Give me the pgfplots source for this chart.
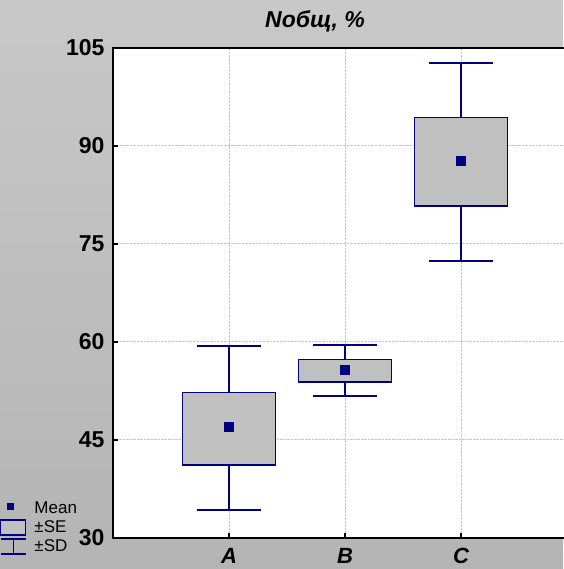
\documentclass[border=0pt]{standalone}
\usepackage{fontspec}
\setmainfont{Liberation Sans}
\usepackage{pgfplots}
\pgfplotsset{compat=1.18}
\usepgfplotslibrary{statistics}
\definecolor{navyb}{RGB}{0,0,128}
\definecolor{boxgray}{RGB}{192,192,192}
\definecolor{bgtop}{RGB}{200,200,200}
\definecolor{bgbot}{RGB}{180,180,180}
\begin{document}
\begin{tikzpicture}[x=1pt,y=1pt]
\useasboundingbox (0,0) rectangle (563,569);
\shade[top color=bgtop, bottom color=bgbot] (0,0) rectangle (563,569);
\begin{axis}[
  at={(113pt,31pt)}, anchor=south west, scale only axis,
  width=452.4pt, height=490pt,
  xmin=0, xmax=3.9, ymin=30, ymax=105,
  xtick={1,2,3}, xticklabels={A,B,C},
  ytick={30,45,60,75,90,105},
  xtick pos=bottom, ytick pos=left, tick align=inside,
  major tick length=5pt,
  tick style={black, line width=1.5pt},
  axis line style={black, line width=1.5pt},
  grid=major, grid style={densely dotted, black!22, line width=1pt},
  axis background/.style={fill=white},
  /pgf/number format/assume math mode=true,
  yticklabel style={font=\bfseries\fontsize{23}{23}\selectfont, xshift=-5pt},
  xticklabel style={font=\bfseries\itshape\fontsize{22}{22}\selectfont, yshift=-7pt},
  boxplot/draw direction=y,
  boxplot/box extend=0.8,
  boxplot/whisker extend=0.56,
  boxplot/draw/median/.code={},
  boxplot/every box/.style={fill=boxgray, draw=navyb, line width=1.5pt},
  boxplot/every whisker/.style={draw=navyb, line width=2pt},
  legend cell align=left,
  legend style={draw=none, fill=none, inner sep=0pt, outer sep=0pt,
    at={(rel axis cs:0,0)}, anchor=south west, xshift=-113pt, yshift=-18pt,
    font=\fontsize{17}{17}\selectfont, row sep=0pt,
    nodes={inner sep=1pt},
    /tikz/every odd column/.append style={column sep=7pt}},
]
\addplot[forget plot, boxplot prepared={draw position=1, lower whisker=34.3, lower quartile=41.2, median=47.0, upper quartile=52.3, upper whisker=59.4}] coordinates {};
\addplot[forget plot, boxplot prepared={draw position=2, lower whisker=51.7, lower quartile=53.9, median=55.8, upper quartile=57.3, upper whisker=59.5}] coordinates {};
\addplot[forget plot, boxplot prepared={draw position=3, lower whisker=72.4, lower quartile=80.8, median=87.75, upper quartile=94.4, upper whisker=102.7}] coordinates {};
\addplot[forget plot, only marks, mark=square*, mark size=4.5pt, navyb] coordinates {(1,47.0) (2,55.8) (3,87.75)};
\addlegendimage{legend image code/.code={\path[draw=none,fill=none] (0pt,-9.5pt) rectangle (23pt,9.5pt); \fill[navyb] (4.2pt,-1pt) rectangle (10.8pt,5.6pt);}}
\addlegendentry{Mean}
\addlegendimage{legend image code/.code={\path[draw=none,fill=none] (0pt,-9.5pt) rectangle (23pt,9.5pt); \draw[navyb, fill=boxgray, line width=1.2pt] (-2pt,-7.5pt) rectangle (23pt,7.5pt);}}
\addlegendentry{±SE}
\addlegendimage{legend image code/.code={\path[draw=none,fill=none] (0pt,-9.5pt) rectangle (23pt,9.5pt); \draw[navyb, line width=1.5pt] (-2pt,7.3pt) -- (23pt,7.3pt) (11pt,7.3pt) -- (11pt,-7.3pt) (-2pt,-7.3pt) -- (23pt,-7.3pt);}}
\addlegendentry{±SD}
\end{axis}
\node[font=\bfseries\itshape\fontsize{23}{23}\selectfont] at (315,548) {Nобщ, \%};
\end{tikzpicture}
\end{document}
